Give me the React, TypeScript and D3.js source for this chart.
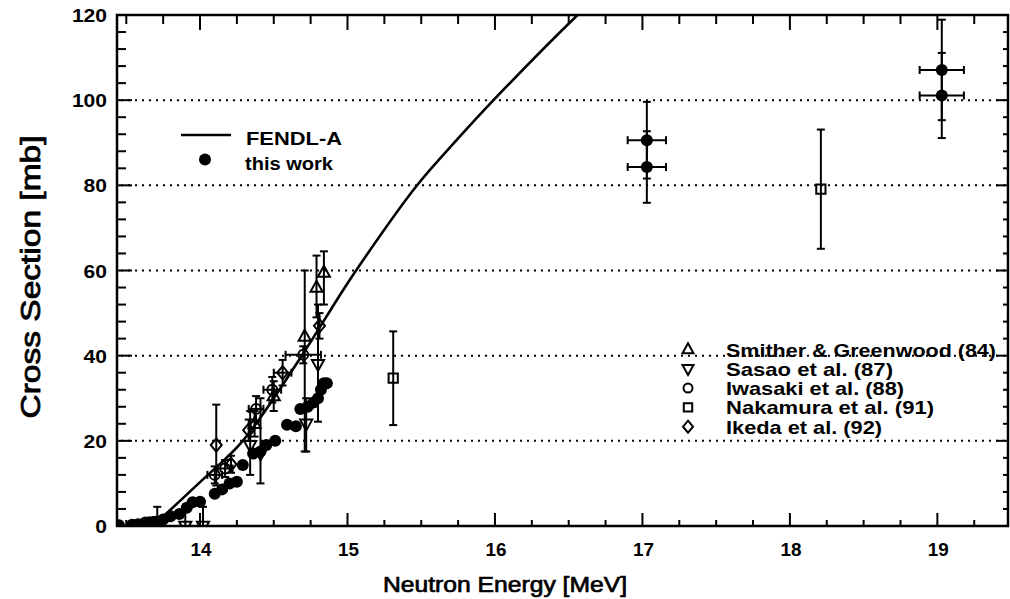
import React from 'react';
import * as d3 from 'd3';

const W = 1010;
const H = 599;
const FONT = "'Liberation Sans', Arial, Helvetica, sans-serif";

// axes
const xDomain = [13.437, 19.479];
const yDomain = [0, 120];
const xMajorTicks = [14, 15, 16, 17, 18, 19];
const xTickLabels = ['14', '15', '16', '17', '18', '19'];
const yMajorTicks = [0, 20, 40, 60, 80, 100, 120];
const yTickLabels = ['0', '20', '40', '60', '80', '100', '120'];
const gridValues = [20, 40, 60, 80, 100];

// FENDL-A evaluation
const fendlE = [13.68, 14.0, 14.29, 14.69, 14.93, 15.05, 15.46, 15.75, 15.99, 16.56, 16.7];
const fendlSigma = [0, 10.3, 20, 40, 53.2, 59.6, 79.5, 91.0, 100, 120, 124.5];

// this work (filled circles)
const thisWorkE = [13.41, 13.45, 13.54, 13.58, 13.63, 13.66, 13.70, 13.75, 13.80, 13.86, 13.91, 13.95, 14.00, 14.10, 14.15, 14.20, 14.25, 14.29, 14.36, 14.41, 14.45, 14.51, 14.59, 14.65, 14.68, 14.73, 14.77, 14.80, 14.82, 14.84, 14.86, 17.03, 17.03, 19.03, 19.03];
const thisWorkSigma = [0.2, 0.2, 0.3, 0.4, 0.8, 0.9, 1.0, 1.5, 2.3, 2.8, 4.3, 5.6, 5.7, 7.6, 8.6, 10.0, 10.4, 14.3, 17.0, 17.5, 19.0, 20.0, 23.8, 23.4, 27.5, 28.0, 29.0, 30.0, 32.0, 33.5, 33.5, 90.6, 84.3, 107.1, 101.1];
const thisWorkDSigma = [0, 0, 0, 0, 0, 0, 0, 0, 0, 0, 0, 0, 0, 0, 0, 0, 0, 0, 0, 0, 0, 0, 0, 0, 0, 0, 0, 0, 0, 0, 0, 9.0, 8.4, 11.8, 10.0];
const thisWorkDE = [0, 0, 0, 0, 0, 0, 0, 0, 0, 0, 0, 0, 0, 0, 0, 0, 0, 0, 0, 0, 0, 0, 0, 0, 0, 0, 0, 0, 0, 0, 0, 0.13, 0.13, 0.15, 0.15];

// Smither & Greenwood (84)
const smitherE = [14.37, 14.50, 14.71, 14.79, 14.84];
const smitherSigma = [24, 30.5, 44.5, 56, 59.5];
const smitherLo = [3, 3.5, 27, 7, 7.5];
const smitherHi = [3, 3.5, 15.5, 7.5, 5];

// Sasao et al. (87)
const sasaoE = [13.90, 14.02, 14.34, 14.41, 14.72, 14.80];
const sasaoSigma = [0, 0, 19, 17, 24, 38];
const sasaoLo = [0, 0, 7, 7, 6.5, 13.5];
const sasaoHi = [4.5, 4.5, 8, 13, 6, 14];

// Iwasaki et al. (88)
const iwasakiE = [14.10, 14.17, 14.38, 14.49, 14.70];
const iwasakiSigma = [12, 13.5, 27.5, 32, 40.2];
const iwasakiDSigma = [2, 2, 3, 3, 2];
const iwasakiDE = [0.05, 0.05, 0.05, 0.06, 0.12];

// Nakamura et al. (91)
const nakamuraE = [13.71, 15.31, 18.21];
const nakamuraSigma = [1, 34.7, 79.1];
const nakamuraLo = [1, 11, 14];
const nakamuraHi = [3.5, 11, 14];

// Ikeda et al. (92)
const ikedaE = [14.11, 14.21, 14.33, 14.56, 14.81];
const ikedaSigma = [19, 14.5, 22.5, 36, 47];
const ikedaDSigma = [9.5, 2, 2.5, 3, 3];
const ikedaDE = [0, 0, 0, 0.06, 0];

const legendLabels = ['Smither & Greenwood (84)', 'Sasao et al. (87)', 'Iwasaki et al. (88)', 'Nakamura et al. (91)', 'Ikeda et al. (92)'];
const legendLengths = [270, 167, 178, 208, 156];

const L = 117, R = 1008, T = 15, B = 526;
const x = d3.scaleLinear().domain(xDomain).range([L, R]);
const y = d3.scaleLinear().domain(yDomain).range([B, T]);

type Shape = 'up' | 'down' | 'circle' | 'square' | 'diamond';

function symbolPath(shape: Shape, s: number): string {
  switch (shape) {
    case 'up':
      return `M0,${-s * 0.62}L${s * 0.55},${s * 0.38}L${-s * 0.55},${s * 0.38}Z`;
    case 'down':
      return `M0,${s * 0.62}L${s * 0.55},${-s * 0.38}L${-s * 0.55},${-s * 0.38}Z`;
    case 'diamond':
      return `M0,${-s * 0.6}L${s * 0.5},0L0,${s * 0.6}L${-s * 0.5},0Z`;
    case 'square':
      return `M${-s * 0.42},${-s * 0.42}h${s * 0.84}v${s * 0.84}h${-s * 0.84}Z`;
    default: {
      const r = s * 0.45;
      return `M${r},0A${r},${r} 0 1,1 ${-r},0A${r},${r} 0 1,1 ${r},0Z`;
    }
  }
}

function ErrBar({ e, s, lo, hi, de, cap = 4 }: { e: number; s: number; lo: number; hi: number; de: number; cap?: number }) {
  const cx = x(e);
  const cy = y(s);
  const parts: React.ReactNode[] = [];
  if (lo > 0 || hi > 0) {
    const y1 = y(Math.min(120, s + hi));
    const y0 = y(s - lo);
    parts.push(<line key="v" x1={cx} x2={cx} y1={y0} y2={y1} />);
    if (hi > 0 && s + hi <= 120) parts.push(<line key="ct" x1={cx - cap} x2={cx + cap} y1={y1} y2={y1} />);
    if (lo > 0) parts.push(<line key="cb" x1={cx - cap} x2={cx + cap} y1={y0} y2={y0} />);
  }
  if (de > 0) {
    const x0 = x(e - de);
    const x1 = x(e + de);
    parts.push(<line key="h" x1={x0} x2={x1} y1={cy} y2={cy} />);
    parts.push(<line key="cl" x1={x0} x2={x0} y1={cy - cap} y2={cy + cap} />);
    parts.push(<line key="cr" x1={x1} x2={x1} y1={cy - cap} y2={cy + cap} />);
  }
  return <g stroke="#000" strokeWidth={2}>{parts}</g>;
}

function Txt(props: { x: number; y: number; len?: number; size: number; anchor?: string; weight?: string; rotate?: number; thick?: number; children: string }) {
  const { x: tx, y: ty, len, size, anchor = 'start', weight = 'bold', rotate, thick = 0, children } = props;
  return (
    <text
      x={tx}
      y={ty}
      fontFamily={FONT}
      fontSize={size}
      fontWeight={weight}
      textAnchor={anchor}
      fill="#000"
      stroke={thick ? '#000' : undefined}
      strokeWidth={thick || undefined}
      textLength={len}
      lengthAdjust={len ? 'spacingAndGlyphs' : undefined}
      transform={rotate ? `rotate(${rotate},${tx},${ty})` : undefined}
    >
      {children}
    </text>
  );
}

export default function App() {
  const xMinor = d3.range(13.5, 19.3, 0.25).filter((v) => Math.abs(v - Math.round(v)) > 1e-6);
  const yMinor = d3.range(4, 120, 4).filter((v) => v % 20 !== 0);

  const line = d3
    .line<number>()
    .x((_, i) => x(fendlE[i]))
    .y((_, i) => y(fendlSigma[i]))
    .curve(d3.curveCatmullRom.alpha(0.5));
  const fendlPath = line(fendlE.map((_, i) => i)) || '';

  const symSize = 11;

  const openSeries: { shape: Shape; e: number[]; s: number[]; lo: number[]; hi: number[]; de: number[] }[] = [
    { shape: 'up', e: smitherE, s: smitherSigma, lo: smitherLo, hi: smitherHi, de: smitherE.map(() => 0) },
    { shape: 'down', e: sasaoE, s: sasaoSigma, lo: sasaoLo, hi: sasaoHi, de: sasaoE.map(() => 0) },
    { shape: 'circle', e: iwasakiE, s: iwasakiSigma, lo: iwasakiDSigma, hi: iwasakiDSigma, de: iwasakiDE },
    { shape: 'square', e: nakamuraE, s: nakamuraSigma, lo: nakamuraLo, hi: nakamuraHi, de: nakamuraE.map(() => 0) },
    { shape: 'diamond', e: ikedaE, s: ikedaSigma, lo: ikedaDSigma, hi: ikedaDSigma, de: ikedaDE },
  ];
  const legendShapes: Shape[] = ['up', 'down', 'circle', 'square', 'diamond'];

  return (
    <svg width={W} height={H} style={{ position: 'absolute', left: 0, top: 0, background: '#fff' }}>
      <rect x={0} y={0} width={W} height={H} fill="#fff" />
      <defs>
        <clipPath id="plot">
          <rect x={L} y={T} width={R - L} height={B - T} />
        </clipPath>
      </defs>

      {/* grid */}
      {gridValues.map((g) => (
        <line key={g} x1={L + 4} x2={R} y1={y(g)} y2={y(g)} stroke="#000" strokeWidth={2} strokeDasharray="2 5" />
      ))}

      {/* ticks */}
      <g stroke="#000" strokeWidth={2}>
        {xMajorTicks.map((t) => (
          <g key={'xm' + t}>
            <line x1={x(t)} x2={x(t)} y1={B} y2={B - 13} />
            <line x1={x(t)} x2={x(t)} y1={T} y2={T + 15} />
          </g>
        ))}
        {xMinor.map((t) => (
          <g key={'xn' + t}>
            <line x1={x(t)} x2={x(t)} y1={B} y2={B - 6} />
            <line x1={x(t)} x2={x(t)} y1={T} y2={T + 9} />
          </g>
        ))}
        {yMajorTicks.map((t) => (
          <g key={'ym' + t}>
            <line x1={L} x2={L + 15} y1={y(t)} y2={y(t)} />
            <line x1={R} x2={R - 12} y1={y(t)} y2={y(t)} />
          </g>
        ))}
        {yMinor.map((t) => (
          <g key={'yn' + t}>
            <line x1={L} x2={L + 9} y1={y(t)} y2={y(t)} />
            <line x1={R} x2={R - 5} y1={y(t)} y2={y(t)} />
          </g>
        ))}
      </g>

      {/* frame */}
      <rect x={L} y={T} width={R - L} height={B - T} fill="none" stroke="#000" strokeWidth={2.5} />

      {/* tick labels */}
      {yMajorTicks.map((t, i) => (
        <Txt key={'yl' + t} x={107} y={y(t) + 7} size={19} anchor="end" len={yTickLabels[i].length * 11.7}>
          {yTickLabels[i]}
        </Txt>
      ))}
      {xMajorTicks.map((t, i) => (
        <Txt key={'xl' + t} x={x(t) + 1} y={556} size={19} anchor="middle" len={21}>
          {xTickLabels[i]}
        </Txt>
      ))}

      {/* axis titles */}
      <Txt x={505} y={592} size={22} anchor="middle" weight="normal" len={244} thick={0.7}>
        Neutron Energy [MeV]
      </Txt>
      <Txt x={40} y={277} size={27} anchor="middle" weight="normal" len={283} rotate={-90} thick={0.8}>
        Cross Section [mb]
      </Txt>

      <g clipPath="url(#plot)">
        {/* FENDL-A */}
        <path d={fendlPath} fill="none" stroke="#000" strokeWidth={2.6} />

        {/* open symbol series */}
        {openSeries.map((ser, k) => (
          <g key={'s' + k}>
            {ser.e.map((e, i) => (
              <ErrBar key={i} e={e} s={ser.s[i]} lo={ser.lo[i]} hi={ser.hi[i]} de={ser.de[i]} />
            ))}
            {ser.e.map((e, i) => (
              <path
                key={'p' + i}
                d={symbolPath(ser.shape, symSize)}
                transform={`translate(${x(e)},${y(ser.s[i])})`}
                fill="none"
                stroke="#000"
                strokeWidth={2}
              />
            ))}
          </g>
        ))}

        {/* this work */}
        {thisWorkE.map((e, i) => (
          <ErrBar key={'tw' + i} e={e} s={thisWorkSigma[i]} lo={thisWorkDSigma[i]} hi={thisWorkDSigma[i]} de={thisWorkDE[i]} />
        ))}
        {thisWorkE.map((e, i) => (
          <circle key={'twc' + i} cx={x(e)} cy={y(thisWorkSigma[i])} r={6} fill="#000" />
        ))}
      </g>

      {/* legend upper left */}
      <line x1={181} x2={231} y1={135} y2={135} stroke="#000" strokeWidth={2.6} />
      <Txt x={246} y={145} size={19} len={96}>
        FENDL-A
      </Txt>
      <circle cx={205} cy={159.5} r={6} fill="#000" />
      <Txt x={245} y={170} size={19} len={88}>
        this work
      </Txt>

      {/* legend lower right */}
      {legendLabels.map((lab, i) => {
        const cy = 349.5 + i * 19.3;
        return (
          <g key={lab}>
            <path
              d={symbolPath(legendShapes[i], 10)}
              transform={`translate(688,${cy})`}
              fill="none"
              stroke="#000"
              strokeWidth={2}
            />
            <Txt x={726} y={cy + 7} size={19} len={legendLengths[i]}>
              {lab}
            </Txt>
          </g>
        );
      })}
    </svg>
  );
}
